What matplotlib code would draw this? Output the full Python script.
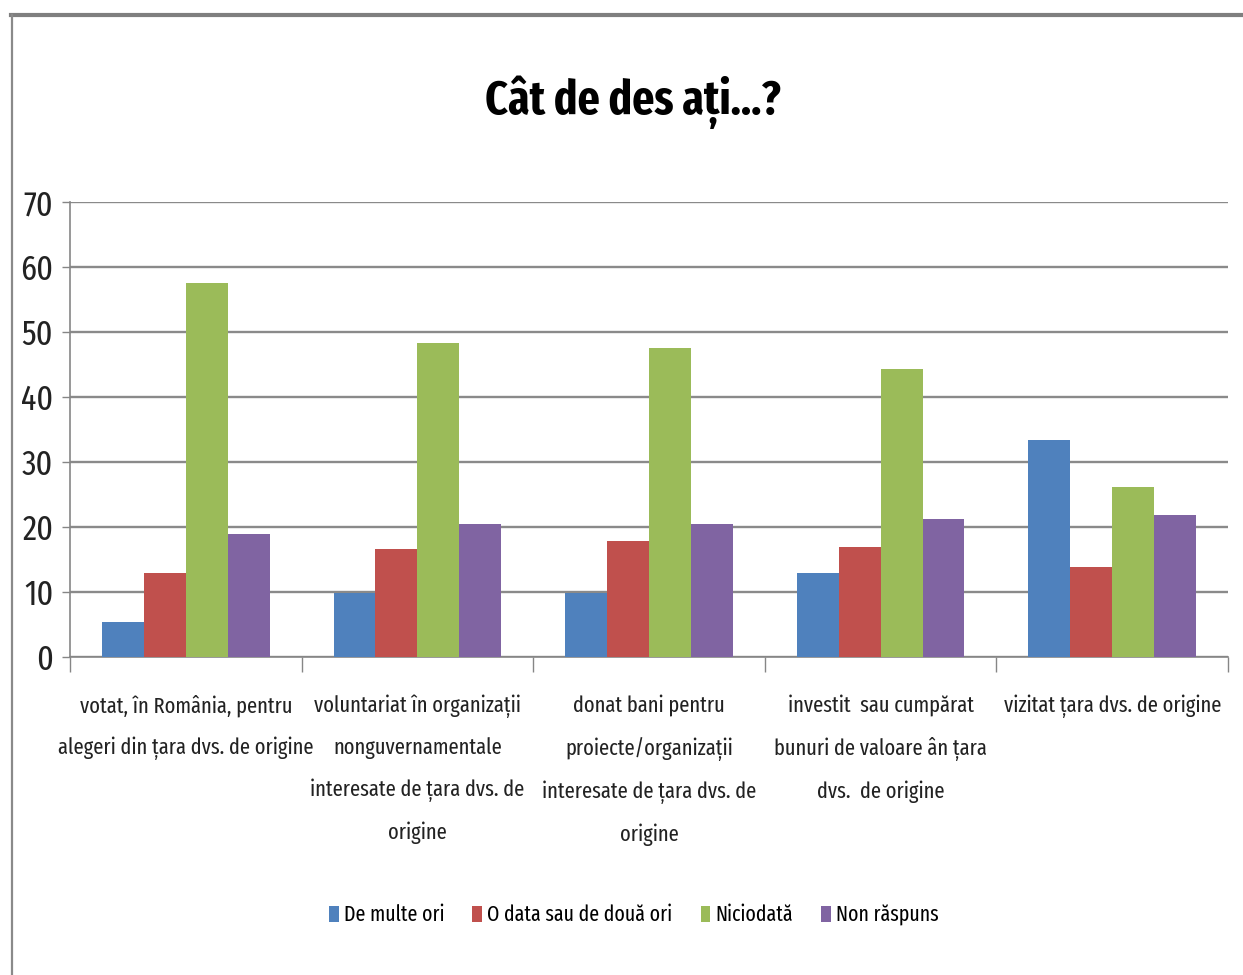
import numpy as np
import matplotlib
matplotlib.use('Agg')
from matplotlib import pyplot as plt
from matplotlib import font_manager
from matplotlib.lines import Line2D

# survey answers, percent of respondents
categories = [
    'votat, în România, pentru\nalegeri din țara dvs. de origine',
    'voluntariat în organizații\nnonguvernamentale\ninteresate de țara dvs. de\norigine',
    'donat bani pentru\nproiecte/organizații\ninteresate de țara dvs. de\norigine',
    'investit  sau cumpărat\nbunuri de valoare ân țara\ndvs.  de origine',
    'vizitat țara dvs. de origine',
]
series_names = ['De multe ori', 'O data sau de două ori', 'Niciodată', 'Non răspuns']
de_multe_ori = [5.4, 9.9, 9.9, 13.0, 33.4]
o_data = [13.0, 16.6, 17.9, 16.9, 13.9]
niciodata = [57.5, 48.3, 47.6, 44.3, 26.2]
non_raspuns = [18.9, 20.5, 20.5, 21.2, 21.9]
yticks = [0, 10, 20, 30, 40, 50, 60, 70]

colors = ['#4F81BD', '#C0504D', '#9BBB59', '#8064A2']

# narrow face if there is one, plain sans otherwise
installed = {f.name for f in font_manager.fontManager.ttflist}
narrow = 'Liberation Sans'
for name in ['Fira Sans Extra Condensed', 'Roboto Condensed', 'Liberation Sans Narrow']:
    if name in installed:
        narrow = name
        break
plt.rcParams['font.family'] = [narrow, 'DejaVu Sans']

W, H = 1243, 975
fig = plt.figure(figsize=(W / 100, H / 100), dpi=100)
ax = fig.add_axes([70 / W, 1 - 657 / H, (1228 - 70) / W, (657 - 202) / H])

values = [de_multe_ori, o_data, niciodata, non_raspuns]
x = np.arange(len(categories))
bw = 0.181
for i, (vals, name, c) in enumerate(zip(values, series_names, colors)):
    ax.bar(x + (i - 1.5) * bw, vals, bw, color=c, label=name, zorder=3)

ax.set_xlim(-0.5, len(categories) - 0.5)
ax.set_ylim(0, 70)
ax.set_yticks(yticks)
ax.tick_params(axis='y', length=6, width=1, color='#868686', pad=6, labelsize=25, labelcolor='#222222')
ax.yaxis.grid(True, color='#8a8a8a', linewidth=1.7, zorder=0)
ax.set_axisbelow(True)

ax.set_xticks(x)
ax.set_xticklabels(categories, fontsize=16, linespacing=2.12, color='#222222')
ax.tick_params(axis='x', which='major', length=0, pad=27)
ax.set_xticks(np.arange(-0.5, len(categories)), minor=True)
ax.tick_params(axis='x', which='minor', length=11, width=1, color='#868686')

for s in ['top', 'right']:
    ax.spines[s].set_visible(False)
for s in ['left', 'bottom']:
    ax.spines[s].set_color('#868686')
    ax.spines[s].set_linewidth(1.2)

fig.text(0.509, 1 - 102 / H, 'Cât de des ați...?', ha='center', va='center',
         fontsize=34, fontweight='bold')

fig.legend(loc='center', bbox_to_anchor=(0.51, 1 - 915 / H), ncol=4, frameon=False,
           fontsize=15.5, handlelength=0.45, handleheight=0.8, handletextpad=0.25,
           columnspacing=1.3)

# frame around the chart area
fig.add_artist(Line2D([11 / W, 1], [1 - 15 / H, 1 - 15 / H], color='#7f7f7f', linewidth=3,
                      transform=fig.transFigure))
fig.add_artist(Line2D([12 / W, 12 / W], [0, 1 - 15 / H], color='#8a8a8a', linewidth=1.6,
                      transform=fig.transFigure))

fig.savefig('out.png', dpi=100)
